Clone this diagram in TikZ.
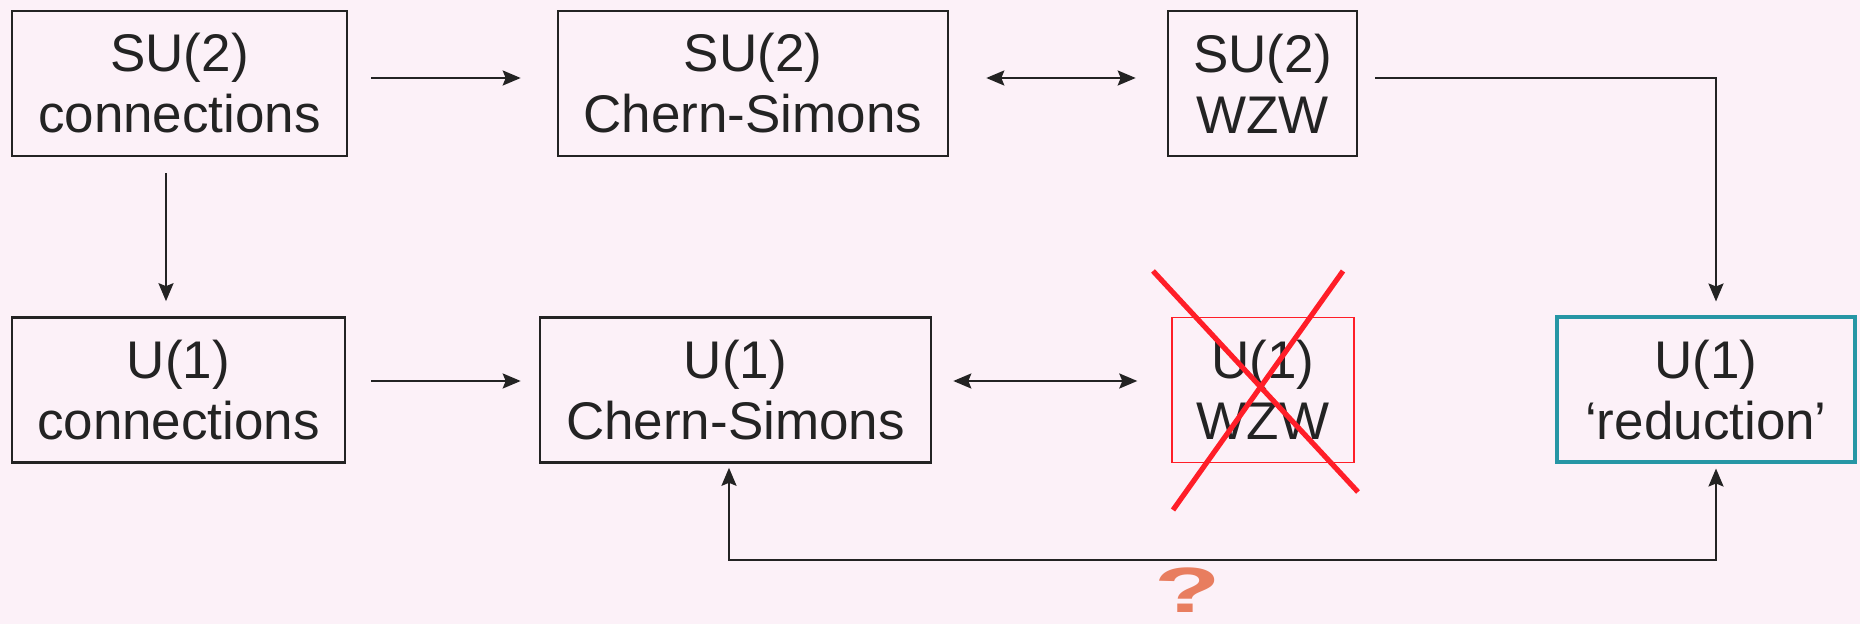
\documentclass[tikz,border=0pt]{standalone}
\usepackage{fontspec}
\setmainfont{Liberation Sans}
\usetikzlibrary{arrows.meta,calc}
\definecolor{bg}{RGB}{252,241,248}
\definecolor{teal2}{RGB}{38,150,165}
\definecolor{xred}{RGB}{255,30,40}
\definecolor{qorange}{RGB}{232,125,95}
\definecolor{ink}{RGB}{35,35,35}
\begin{document}
\begin{tikzpicture}[x=0.5pt,y=-0.5pt,
  box/.style={draw=ink, line width=1.3pt, minimum height=72.5pt, inner sep=0pt,
    align=center, font=\fontsize{26.5}{30.5}\selectfont, text=ink},
  arr/.style={draw=ink, line width=1.15pt, -{Stealth[length=9pt,width=7.5pt,inset=1.5pt]}},
  darr/.style={draw=ink, line width=1.15pt, {Stealth[length=9pt,width=7.5pt,inset=1.5pt]}-{Stealth[length=9pt,width=7.5pt,inset=1.5pt]}},
  xstroke/.style={draw=xred, line width=2.6pt}]
\fill[bg] (0,0) rectangle (1860,624);
\useasboundingbox (0,0) rectangle (1860,624);

\node[box, minimum width=167.5pt] (su2c) at (179.5,83.5) {SU(2)\\connections};
\node[box, minimum width=195pt] (su2cs) at (753,83.5) {SU(2)\\Chern-Simons};
\node[box, minimum width=94.5pt] (su2w) at (1262.5,83.5) {SU(2)\\WZW};
\node[box, minimum width=166.5pt] (u1c) at (178.5,390) {U(1)\\connections};
\node[box, minimum width=195.5pt] (u1cs) at (735.5,390) {U(1)\\Chern-Simons};
\node[box, draw=xred, line width=0.7pt, minimum width=91pt] (u1w) at (1263,390) {U(1)\\WZW};
\node[box, draw=teal2, line width=2pt, minimum width=149pt] (u1r) at (1706,390) {U(1)\\‘reduction’};

\draw[arr, shorten <=11.5pt, shorten >=18pt] ([yshift=2.75pt]su2c.east) -- ([yshift=2.75pt]su2cs.west);
\draw[darr, shorten <=18.5pt, shorten >=15.5pt] ([yshift=2.75pt]su2cs.east) -- ([yshift=2.75pt]su2w.west);
\draw[arr, shorten <=8.5pt, shorten >=7pt] ([yshift=2.75pt]su2w.east) -| ([xshift=5pt]u1r.north);
\draw[arr, shorten <=8pt, shorten >=7.5pt] ([xshift=-6.75pt]su2c.south) -- ([xshift=-6.25pt]u1c.north);
\draw[arr, shorten <=12.5pt, shorten >=9pt] ([yshift=4.5pt]u1c.east) -- ([yshift=4.5pt]u1cs.west);
\draw[darr, shorten <=10.5pt, shorten >=17pt] ([yshift=4.5pt]u1cs.east) -- ([yshift=4.5pt]u1w.west);
\coordinate (fb) at (1200,560);
\draw[darr, shorten <=2pt, shorten >=2pt] ([xshift=-3.25pt]u1cs.south) |- (fb) -| ([xshift=5pt]u1r.south);

\draw[xstroke] (1153,271) -- (1358,492);
\draw[xstroke] (1343,271) -- (1173,510);

\node[text=qorange, inner sep=0pt, font=\fontsize{32}{35}\selectfont\bfseries] (q) at (1188,590) {\scalebox{1.7}[1]{?}};
\end{tikzpicture}
\end{document}
